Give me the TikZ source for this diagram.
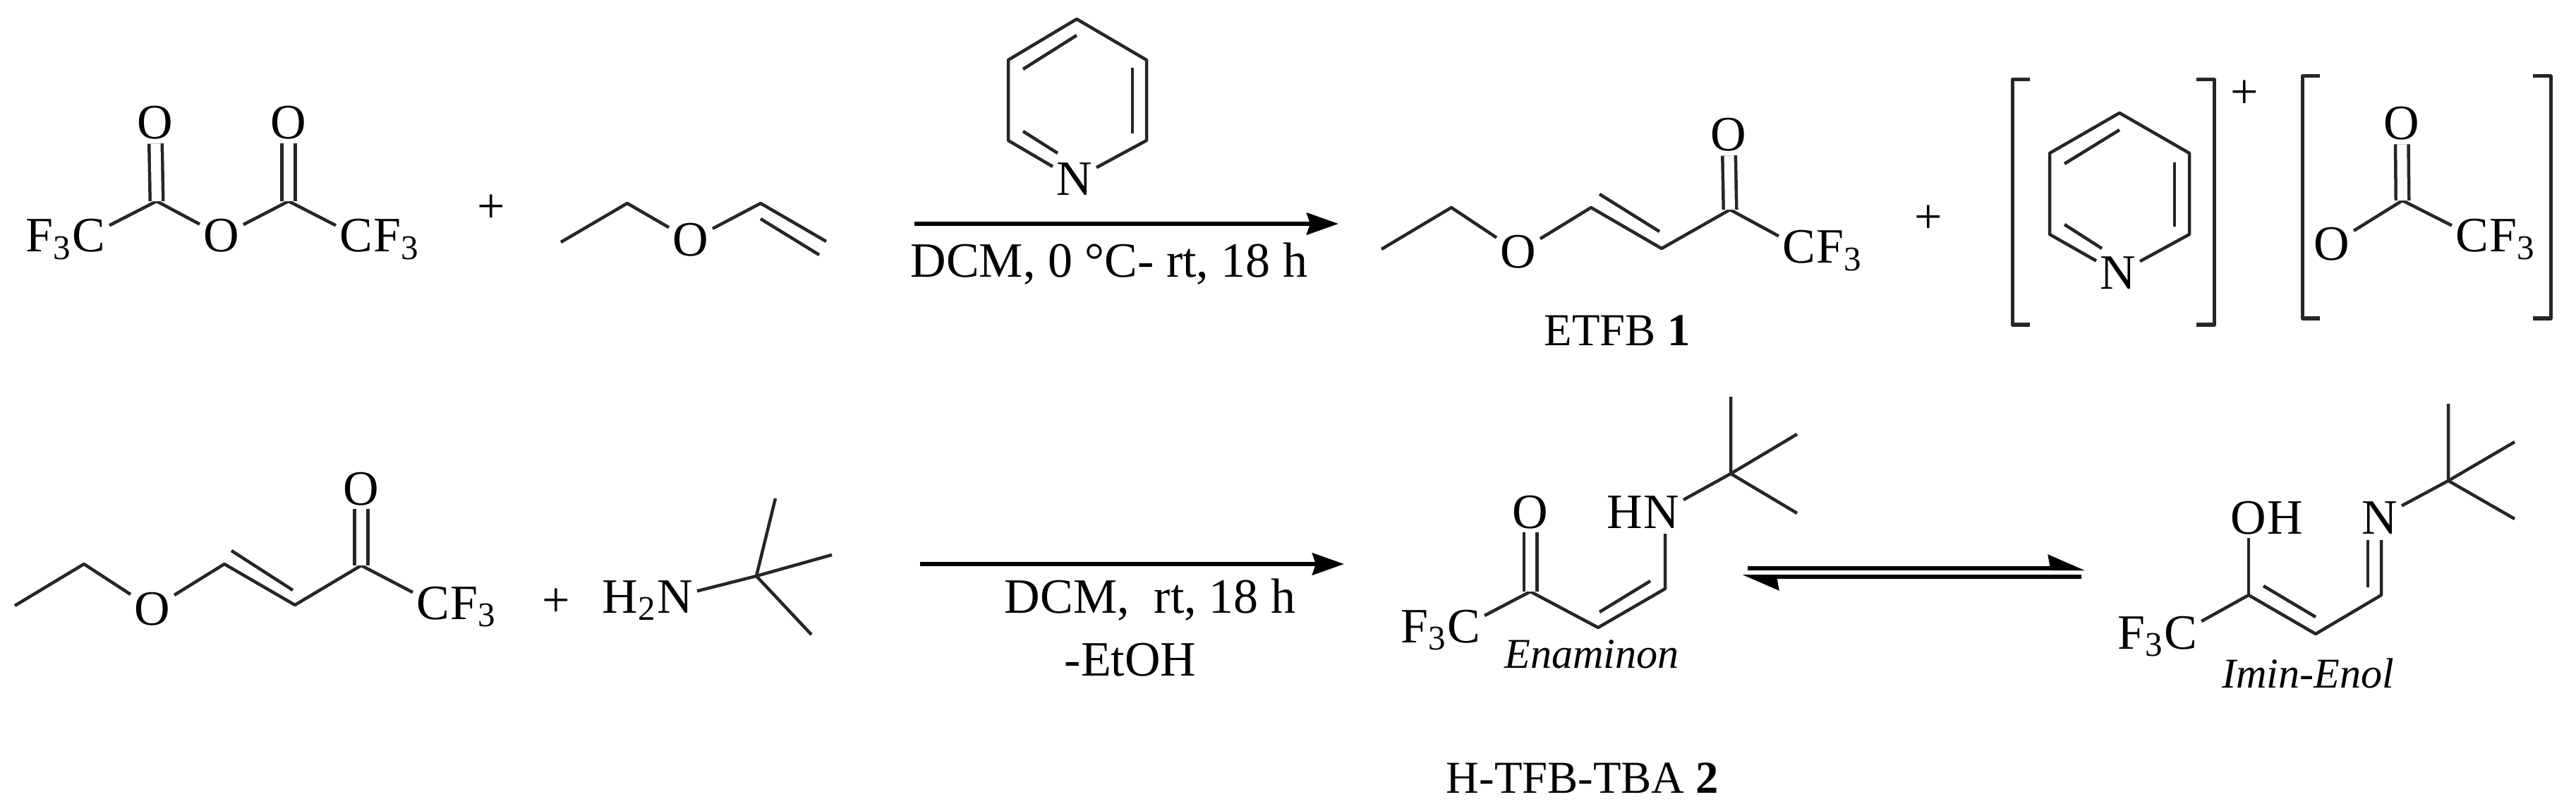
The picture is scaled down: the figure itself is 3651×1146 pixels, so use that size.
\documentclass[tikz,border=0pt]{standalone}
\usepackage{fontspec}
\setmainfont{Liberation Serif}
\usepackage{tikz}
\usetikzlibrary{arrows.meta}

\begin{document}
\begin{tikzpicture}[x=0.01cm,y=-0.01cm,line join=round,
  every node/.style={font=\fontsize{19.9}{24}\selectfont},
  atom/.style={anchor=base,inner sep=0.05cm},
  tailatom/.style={anchor=base west,inner sep=0pt,xshift=-0.05cm},
  headatom/.style={anchor=base east,inner sep=0pt,xshift=0.05cm},
  tag/.style={anchor=base,inner sep=0pt},
  caption/.style={anchor=base,inner sep=0pt,font=\fontsize{18.4}{22}\selectfont},
  tautomer/.style={anchor=base,inner sep=0pt,font=\fontsize{17.1}{20}\selectfont\itshape},
  bond/.style={draw=black!85,line width=0.045cm},
  dbond/.style={draw=black!85,line width=0.045cm,double,double distance=0.14cm},
  brack/.style={draw=black!85,line width=0.05cm},
  rarrow/.style={draw=black,line width=0.06cm,-{Stealth[length=0.45cm,width=0.31cm,inset=0.05cm]}},
  harp/.style={draw=black,line width=0.06cm,-{Stealth[harpoon,length=0.45cm,width=0.38cm,inset=0.03cm]}}]
\useasboundingbox (0,0) rectangle (3651,1146);

\node [atom] (anhCa) at (126,357) {C};
\node [headatom] (anhFa) at (anhCa.base west) {F\textsubscript{3}};
\node [atom] (anhOa) at (220,197) {O};
\node [atom] (anhO) at (314,357) {O};
\node [atom] (anhOb) at (409,197) {O};
\node [atom] (anhCb) at (505,357) {C};
\node [tailatom] (anhFb) at (anhCb.base east) {F\textsubscript{3}};
\coordinate (anh1) at (222,285);
\coordinate (anh2) at (409,285);
\draw [bond] (anhCa) -- (anh1) -- (anhO) -- (anh2) -- (anhCb);
\draw [dbond] (anh1) -- (anhOa);
\draw [dbond] (anh2) -- (anhOb);

\node [tag] (plusa) at (696,316) {+};

\coordinate (eve1) at (795,343);
\coordinate (eve2) at (889,288);
\node [atom] (eveO) at (979,363) {O};
\coordinate (eve3) at (1078,288);
\coordinate (eve4) at (1171,342);
\coordinate (eve5) at (1078,310);
\coordinate (eve6) at (1161,361);
\draw [bond] (eve1) -- (eve2) -- (eveO) -- (eve3) -- (eve4);
\draw [bond] (eve5) -- (eve6);

\node [atom] (pyaN) at (1523,277) {N};
\coordinate (pya1) at (1526,27);
\coordinate (pya2) at (1429,85);
\coordinate (pya3) at (1625,85);
\coordinate (pya4) at (1429,199);
\coordinate (pya5) at (1625,199);
\draw [bond] (pyaN) -- (pya4) -- (pya2) -- (pya1) -- (pya3) -- (pya5) -- (pyaN);
\coordinate (pya6) at (1526,50);
\coordinate (pya7) at (1450,98);
\coordinate (pya8) at (1605,96);
\coordinate (pya9) at (1605,189);
\coordinate (pya10) at (1450,186);
\coordinate (pya11) at (1499,217);
\draw [bond] (pya6) -- (pya7);
\draw [bond] (pya8) -- (pya9);
\draw [bond] (pya10) -- (pya11);

\coordinate (arra) at (1296,317);
\coordinate (arrb) at (1897,317);
\draw [rarrow] (arra) -- (arrb);
\node [tag] (conda) at (1572,393) {DCM, 0 °C- rt, 18 h};

\coordinate (etf1) at (1958,353);
\coordinate (etf2) at (2057,294);
\node [atom] (etfO) at (2152,380) {O};
\coordinate (etf3) at (2255,294);
\coordinate (etf4) at (2355,352);
\coordinate (etf5) at (2452,297);
\coordinate (etf6) at (2267,275);
\coordinate (etf7) at (2352,328);
\node [atom] (etfOb) at (2450,214) {O};
\node [atom] (etfC) at (2550,373) {C};
\node [tailatom] (etfF) at (etfC.base east) {F\textsubscript{3}};
\draw [bond] (etf1) -- (etf2) -- (etfO) -- (etf3) -- (etf4) -- (etf5) -- (etfC);
\draw [bond] (etf6) -- (etf7);
\draw [dbond] (etf5) -- (etfOb);
\node [caption] (etfname) at (2292,490) {ETFB \textbf{1}};

\node [tag] (plusb) at (2733,331) {+};

\draw [brack] (2877,113) -- (2852,113) -- (2852,460) -- (2877,460);
\draw [brack] (3113,113) -- (3138,113) -- (3138,460) -- (3113,460);
\node [tag] (plusc) at (3181,154) {+};
\draw [brack] (3288,108) -- (3263,108) -- (3263,451) -- (3288,451);
\draw [brack] (3590,108) -- (3615,108) -- (3615,451) -- (3590,451);

\node [atom] (pybN) at (3002,410) {N};
\coordinate (pyb1) at (3004,160);
\coordinate (pyb2) at (2905,217);
\coordinate (pyb3) at (3103,217);
\coordinate (pyb4) at (2905,332);
\coordinate (pyb5) at (3103,332);
\draw [bond] (pybN) -- (pyb4) -- (pyb2) -- (pyb1) -- (pyb3) -- (pyb5) -- (pybN);
\coordinate (pyb6) at (3004,184);
\coordinate (pyb7) at (2926,232);
\coordinate (pyb8) at (3082,230);
\coordinate (pyb9) at (3082,321);
\coordinate (pyb10) at (2926,318);
\coordinate (pyb11) at (2979,352);
\draw [bond] (pyb6) -- (pyb7);
\draw [bond] (pyb8) -- (pyb9);
\draw [bond] (pyb10) -- (pyb11);

\coordinate (ace1) at (3405,284);
\node [atom] (aceO) at (3404,198) {O};
\node [atom] (aceOb) at (3305,369) {O};
\node [atom] (aceC) at (3504,357) {C};
\node [tailatom] (aceF) at (aceC.base east) {F\textsubscript{3}};
\draw [bond] (aceOb) -- (ace1) -- (aceC);
\draw [dbond] (ace1) -- (aceO);

\coordinate (eto1) at (21,858);
\coordinate (eto2) at (119,799);
\node [atom] (etoO) at (216,885) {O};
\coordinate (eto3) at (318,799);
\coordinate (eto4) at (418,857);
\coordinate (eto5) at (512,801);
\coordinate (eto6) at (328,780);
\coordinate (eto7) at (415,836);
\node [atom] (etoOb) at (512,715) {O};
\node [atom] (etoC) at (614,877) {C};
\node [tailatom] (etoF) at (etoC.base east) {F\textsubscript{3}};
\draw [bond] (eto1) -- (eto2) -- (etoO) -- (eto3) -- (eto4) -- (eto5) -- (etoC);
\draw [bond] (eto6) -- (eto7);
\draw [dbond] (eto5) -- (etoOb);

\node [tag] (plusd) at (788,873) {+};

\node [atom] (tbaN) at (957,868) {N};
\node [headatom] (tbaH) at (tbaN.base west) {H\textsubscript{2}};
\coordinate (tba1) at (1072,816);
\coordinate (tba2) at (1099,706);
\coordinate (tba3) at (1179,786);
\coordinate (tba4) at (1150,899);
\draw [bond] (tbaN) -- (tba1) -- (tba2);
\draw [bond] (tba1) -- (tba3);
\draw [bond] (tba1) -- (tba4);

\coordinate (arrc) at (1304,799);
\coordinate (arrd) at (1905,799);
\draw [rarrow] (arrc) -- (arrd);
\node [tag] (condb) at (1630,868) {DCM,\ \ rt, 18 h};
\node [tag] (condc) at (1602,957) {-EtOH};

\node [atom] (enaC) at (2075,910) {C};
\node [headatom] (enaF) at (enaC.base west) {F\textsubscript{3}};
\node [atom] (enaO) at (2169,748) {O};
\node [atom] (enaN) at (2355,748) {N};
\node [headatom] (enaH) at (enaN.base west) {H};
\coordinate (ena1) at (2169,838);
\coordinate (ena2) at (2265,889);
\coordinate (ena3) at (2360,834);
\coordinate (ena4) at (2267,867);
\coordinate (ena5) at (2339,823);
\coordinate (ena6) at (2360,756);
\coordinate (ena7) at (2453,671);
\coordinate (ena8) at (2453,562);
\coordinate (ena9) at (2547,615);
\coordinate (ena10) at (2547,727);
\draw [bond] (enaC) -- (ena1) -- (ena2) -- (ena3) -- (ena6);
\draw [dbond] (ena1) -- (enaO);
\draw [bond] (ena4) -- (ena5);
\draw [bond] (enaN) -- (ena7) -- (ena8);
\draw [bond] (ena7) -- (ena9);
\draw [bond] (ena7) -- (ena10);
\node [tautomer] (enaname) at (2256,946) {Enaminon};

\coordinate (eqa) at (2477,805);
\coordinate (eqb) at (2955,805);
\coordinate (eqc) at (2950,817);
\coordinate (eqd) at (2469,817);
\draw [harp] (eqa) -- (eqb);
\draw [harp] (eqc) -- (eqd);

\node [atom] (imiC) at (3091,919) {C};
\node [headatom] (imiF) at (imiC.base west) {F\textsubscript{3}};
\node [atom] (imiO) at (3187,756) {O};
\node [tailatom] (imiH) at (imiO.base east) {H};
\node [atom] (imiN) at (3373,756) {N};
\coordinate (imi1) at (3187,843);
\coordinate (imi2) at (3282,898);
\coordinate (imi3) at (3375,843);
\coordinate (imi4) at (3208,830);
\coordinate (imi5) at (3282,874);
\coordinate (imi6) at (3375,765);
\coordinate (imi7) at (3356,832);
\coordinate (imi8) at (3356,765);
\coordinate (imi9) at (3470,681);
\coordinate (imi10) at (3470,572);
\coordinate (imi11) at (3564,626);
\coordinate (imi12) at (3564,735);
\draw [bond] (imiC) -- (imi1) -- (imi2) -- (imi3) -- (imi6);
\draw [bond] (imi1) -- (imiO);
\draw [bond] (imi4) -- (imi5);
\draw [bond] (imi7) -- (imi8);
\draw [bond] (imiN) -- (imi9) -- (imi10);
\draw [bond] (imi9) -- (imi11);
\draw [bond] (imi9) -- (imi12);
\node [tautomer] (iminame) at (3271,974) {Imin-Enol};

\node [caption] (htfbname) at (2243,1123) {H-TFB-TBA \textbf{2}};
\end{tikzpicture}
\end{document}
